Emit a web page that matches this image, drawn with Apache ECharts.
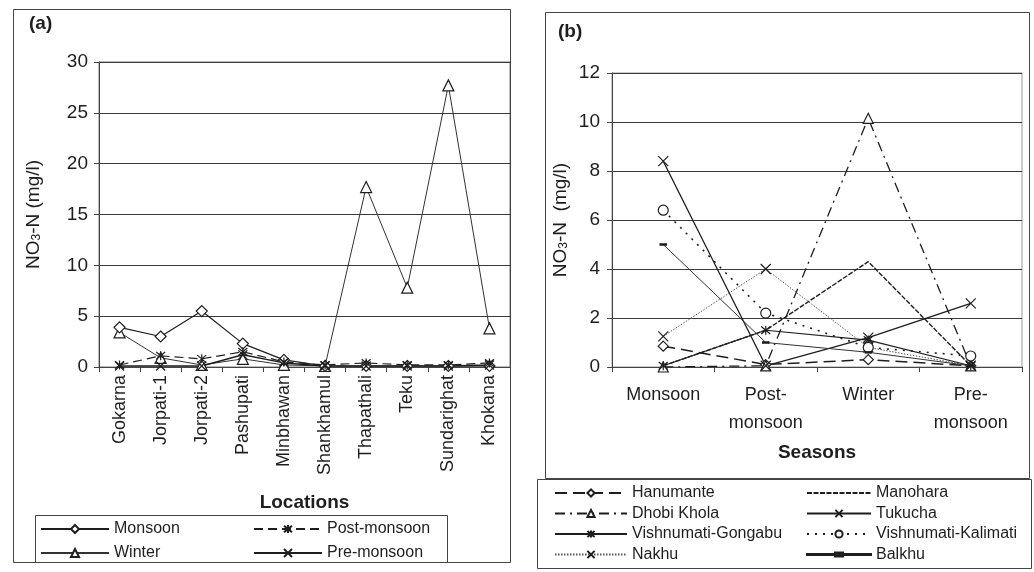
<!DOCTYPE html>
<html>
<head>
<meta charset="utf-8">
<script src="https://cdn.jsdelivr.net/npm/echarts@6/dist/echarts.min.js"></script>
<style>
html,body{margin:0;padding:0;background:#fff;}
#c{width:1034px;height:572px;}
</style>
</head>
<body>
<div id="c"></div>
<script>
// ---- Panel (a) data ----
const locations = ['Gokarna','Jorpati-1','Jorpati-2','Pashupati','Minbhawan','Shankhamul','Thapathali','Teku','Sundarighat','Khokana'];
const monsoonA = [3.9, 3.0, 5.5, 2.3, 0.7, 0.1, 0.1, 0.1, 0.1, 0.1];
const postMonsoonA = [0.2, 1.1, 0.8, 1.5, 0.5, 0.2, 0.4, 0.2, 0.2, 0.4];
const winterA = [3.4, 0.9, 0.2, 0.8, 0.2, 0.1, 17.7, 7.8, 27.7, 3.8];
const preMonsoonA = [0.1, 0.1, 0.1, 1.2, 0.4, 0.1, 0.1, 0.1, 0.1, 0.2];
const yTicksA = [0, 5, 10, 15, 20, 25, 30];

// ---- Panel (b) data ----
const seasons = ['Monsoon', 'Post-\nmonsoon', 'Winter', 'Pre-\nmonsoon'];
const hanumante = [0.85, 0.1, 0.3, 0.05];
const dhobiKhola = [0.0, 0.05, 10.15, 0.05];
const vishGongabu = [0.05, 1.5, 1.1, 0.05];
const nakhu = [1.25, 4.0, 0.8, 0.05];
const manohara = [0.05, 1.5, 4.3, 0.05];
const tukucha = [8.4, 0.05, 1.2, 2.6];
const vishKalimati = [6.4, 2.2, 0.8, 0.45];
const balkhu = [5.0, 1.0, 0.6, 0.05];
const yTicksB = [0, 2, 4, 6, 8, 10, 12];

const FONT = '"Liberation Sans", Arial, sans-serif';
const INK = '#1e1e1e';
const X_PATH = 'path://M0,0L10,10M10,0L0,10';
const AST_PATH = 'path://M0,0L10,10M10,0L0,10M5,-1L5,11';

function mk(name, data, xi, opts) {
  return Object.assign({
    name: name, type: 'line', data: data,
    xAxisIndex: xi, yAxisIndex: xi,
    symbolSize: 9,
    lineStyle: { color: INK, width: 1.2, type: 'solid' },
    itemStyle: { color: '#fff', borderColor: INK, borderWidth: 1.2 },
    emphasis: { disabled: true },
    animation: false
  }, opts);
}

const nameRich = {
  n: { fontFamily: FONT, fontSize: 19, color: INK },
  s: { fontFamily: FONT, fontSize: 12, color: INK, verticalAlign: 'bottom' }
};

const chart = echarts.init(document.getElementById('c'), null, { renderer: 'canvas' });

const legendText = { fontFamily: FONT, fontSize: 16, color: INK, lineHeight: 16 };

chart.setOption({
  backgroundColor: '#fff',
  animation: false,
  graphic: [
    { type: 'rect', shape: { x: 13.5, y: 9.5, width: 497, height: 553 }, style: { fill: 'none', stroke: '#444', lineWidth: 1 } },
    { type: 'rect', shape: { x: 35.5, y: 515.5, width: 412, height: 47 }, style: { fill: 'none', stroke: '#444', lineWidth: 1 } },
    { type: 'rect', shape: { x: 545.5, y: 12.5, width: 484, height: 466 }, style: { fill: 'none', stroke: '#444', lineWidth: 1 } },
    { type: 'rect', shape: { x: 537.5, y: 479.5, width: 494, height: 89 }, style: { fill: 'none', stroke: '#444', lineWidth: 1 } },
    { type: 'text', left: 29, top: 14, style: { text: '(a)', font: 'bold 19px ' + FONT, fill: INK } },
    { type: 'text', left: 558, top: 22, style: { text: '(b)', font: 'bold 19px ' + FONT, fill: INK } }
  ],
  legend: [
    { orient: 'vertical', left: 40, top: 521, padding: 0, itemWidth: 68, itemHeight: 10, itemGap: 8,
      data: ['Monsoon', 'Winter'], textStyle: legendText, selectedMode: false },
    { orient: 'vertical', left: 253, top: 521, padding: 0, itemWidth: 68, itemHeight: 10, itemGap: 8,
      data: ['Post-monsoon', 'Pre-monsoon'], textStyle: legendText, selectedMode: false },
    { orient: 'vertical', left: 554, top: 485, padding: 0, height: 90, itemWidth: 72, itemHeight: 9, itemGap: 4.5,
      data: ['Hanumante', 'Dhobi Khola', 'Vishnumati-Gongabu', 'Nakhu'], textStyle: legendText, selectedMode: false },
    { orient: 'vertical', left: 806, top: 485, padding: 0, height: 90, itemWidth: 64, itemHeight: 9, itemGap: 4.5,
      data: ['Manohara', 'Tukucha', 'Vishnumati-Kalimati',
        { name: 'Balkhu', icon: 'path://M0,4.5h64v1h-64z M28,3h8v4h-8z' }],
      textStyle: legendText, selectedMode: false }
  ],
  grid: [
    { left: 99, right: 524, top: 62, bottom: 205, show: true, borderColor: '#777', borderWidth: 1 },
    { left: 612, right: 12, top: 73, bottom: 205, show: true, borderColor: '#999', borderWidth: 1 }
  ],
  xAxis: [
    { type: 'category', gridIndex: 0, data: locations, boundaryGap: true,
      name: 'Locations', nameLocation: 'middle', nameGap: 126,
      nameTextStyle: { fontFamily: FONT, fontSize: 19, fontWeight: 'bold', color: INK },
      axisLine: { lineStyle: { color: '#444' } },
      axisTick: { show: true, length: 5, lineStyle: { color: '#444' } },
      axisLabel: { rotate: 90, margin: 8, fontFamily: FONT, fontSize: 18, color: INK, interval: 0 } },
    { type: 'category', gridIndex: 1, data: seasons, boundaryGap: true,
      name: 'Seasons', nameLocation: 'middle', nameGap: 76,
      nameTextStyle: { fontFamily: FONT, fontSize: 19, fontWeight: 'bold', color: INK },
      axisLine: { lineStyle: { color: '#444' } },
      axisTick: { show: true, length: 5, lineStyle: { color: '#444' } },
      axisLabel: { margin: 14, fontFamily: FONT, fontSize: 18, color: INK, lineHeight: 28, interval: 0 } }
  ],
  yAxis: [
    { type: 'value', gridIndex: 0, min: yTicksA[0], max: yTicksA[yTicksA.length - 1], interval: 5,
      name: '{n|NO}{s|3}{n|-N (mg/l)}', nameLocation: 'middle', nameGap: 56,
      nameTextStyle: { rich: nameRich },
      axisLine: { show: true, lineStyle: { color: '#444' } },
      axisTick: { show: true, length: 5, lineStyle: { color: '#444' } },
      splitLine: { lineStyle: { color: '#3a3a3a', width: 1 } },
      axisLabel: { margin: 11, fontFamily: FONT, fontSize: 19, color: INK } },
    { type: 'value', gridIndex: 1, min: yTicksB[0], max: yTicksB[yTicksB.length - 1], interval: 2,
      name: '{n|NO}{s|3}{n|-N  (mg/l)}', nameLocation: 'middle', nameGap: 42,
      nameTextStyle: { rich: nameRich },
      axisLine: { show: true, lineStyle: { color: '#444' } },
      axisTick: { show: true, length: 5, lineStyle: { color: '#444' } },
      splitLine: { lineStyle: { color: '#3a3a3a', width: 1 } },
      axisLabel: { margin: 12, fontFamily: FONT, fontSize: 19, color: INK } }
  ],
  series: [
    mk('Winter', winterA, 0, { symbol: 'triangle', symbolSize: 11, lineStyle: { color: '#333', width: 1 } }),
    mk('Monsoon', monsoonA, 0, { symbol: 'diamond', symbolSize: 11 }),
    mk('Post-monsoon', postMonsoonA, 0, { symbol: AST_PATH, symbolSize: 9,
      lineStyle: { color: INK, width: 1.2, type: [9, 5] } }),
    mk('Pre-monsoon', preMonsoonA, 0, { symbol: X_PATH, symbolSize: 9, lineStyle: { color: INK, width: 1.4 } }),

    mk('Hanumante', hanumante, 1, { symbol: 'diamond', symbolSize: 10,
      lineStyle: { color: INK, width: 1.5, type: [12, 6] } }),
    mk('Dhobi Khola', dhobiKhola, 1, { symbol: 'triangle', symbolSize: 10,
      lineStyle: { color: INK, width: 1.3, type: [10, 5, 2, 5] } }),
    mk('Manohara', manohara, 1, { symbol: 'circle', symbolSize: 1,
      itemStyle: { color: 'rgba(0,0,0,0)', borderColor: 'rgba(0,0,0,0)', borderWidth: 0 },
      lineStyle: { color: INK, width: 1.4, type: [5, 1.5] } }),
    mk('Vishnumati-Gongabu', vishGongabu, 1, { symbol: AST_PATH, symbolSize: 9,
      lineStyle: { color: INK, width: 1.2 } }),
    mk('Nakhu', nakhu, 1, { symbol: X_PATH, symbolSize: 10,
      lineStyle: { color: '#555', width: 1, type: [1.5, 1.5] } }),
    mk('Tukucha', tukucha, 1, { symbol: X_PATH, symbolSize: 10,
      lineStyle: { color: INK, width: 1.3 } }),
    mk('Vishnumati-Kalimati', vishKalimati, 1, { symbol: 'circle', symbolSize: 10,
      lineStyle: { color: INK, width: 1.6, type: [2, 6] } }),
    mk('Balkhu', balkhu, 1, { symbol: 'rect', symbolSize: [6, 2],
      itemStyle: { color: INK, borderColor: INK, borderWidth: 0.5 },
      lineStyle: { color: '#333', width: 1 } })
  ]
});
</script>
</body>
</html>
